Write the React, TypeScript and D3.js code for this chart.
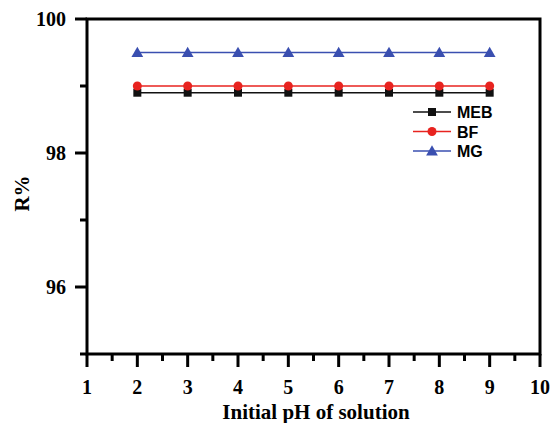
import React from "react";
import * as d3 from "d3";

const phValues = [2, 3, 4, 5, 6, 7, 8, 9];
const mebValues = [98.9, 98.9, 98.9, 98.9, 98.9, 98.9, 98.9, 98.9];
const bfValues = [99.0, 99.0, 99.0, 99.0, 99.0, 99.0, 99.0, 99.0];
const mgValues = [99.5, 99.5, 99.5, 99.5, 99.5, 99.5, 99.5, 99.5];
const xTickLabels = [1, 2, 3, 4, 5, 6, 7, 8, 9, 10];
const yTickLabels = [96, 98, 100];
const seriesNames = ["MEB", "BF", "MG"];

const W = 551, H = 423;
const L = 87, R = 540, T = 19, B = 354;
const font = "'Times New Roman', 'Liberation Serif', serif";

export default function App() {
  const x = d3.scaleLinear().domain([1, 10]).range([L, R]);
  const y = d3.scaleLinear().domain([95, 100]).range([B, T]);
  const line = d3.line<number>().x((_, i) => x(phValues[i])).y(d => y(d));
  const series = [
    { name: seriesNames[0], vals: mebValues, color: "#111111", shape: "square" },
    { name: seriesNames[1], vals: bfValues, color: "#e8231f", shape: "circle" },
    { name: seriesNames[2], vals: mgValues, color: "#3a4fb0", shape: "triangle" },
  ];
  const marker = (shape: string, cx: number, cy: number, color: string, key: any) => {
    if (shape === "square") return <rect key={key} x={cx - 4} y={cy - 4} width={8} height={8} fill={color} />;
    if (shape === "circle") return <circle key={key} cx={cx} cy={cy} r={4.5} fill={color} />;
    const sym = d3.symbol().type(d3.symbolTriangle).size(60)();
    return <path key={key} d={sym as string} transform={`translate(${cx},${cy + 1})`} fill={color} />;
  };
  const minorX = d3.range(1.5, 10, 1);
  const minorY = [95, 97, 99];
  return (
    <svg width={W} height={H} style={{ position: "absolute", left: 0, top: 0 }}>
      <rect width={W} height={H} fill="#fff" />
      {series.map((s, si) => (
        <g key={si}>
          <path d={line(s.vals) as string} fill="none" stroke={s.color} strokeWidth={1.5} />
          {s.vals.map((v, i) => marker(s.shape, x(phValues[i]), y(v), s.color, i))}
        </g>
      ))}
      <rect x={L} y={T} width={R - L} height={B - T} fill="none" stroke="#000" strokeWidth={3} />
      {xTickLabels.map(t => (
        <g key={t}>
          <line x1={x(t)} x2={x(t)} y1={B} y2={B + 13} stroke="#000" strokeWidth={3} />
          <text x={x(t)} y={B + 40} textAnchor="middle" fontFamily={font} fontWeight="bold" fontSize={20}>{t}</text>
        </g>
      ))}
      {minorX.map(t => (
        <line key={t} x1={x(t)} x2={x(t)} y1={B} y2={B + 7} stroke="#000" strokeWidth={3} />
      ))}
      {yTickLabels.map(t => (
        <g key={t}>
          <line x1={L - 12} x2={L} y1={y(t)} y2={y(t)} stroke="#000" strokeWidth={3} />
          <text x={L - 21} y={y(t) + 7} textAnchor="end" fontFamily={font} fontWeight="bold" fontSize={20}>{t}</text>
        </g>
      ))}
      {minorY.map(t => (
        <line key={t} x1={L - 7} x2={L} y1={y(t)} y2={y(t)} stroke="#000" strokeWidth={3} />
      ))}
      <text x={316} y={419} textAnchor="middle" fontFamily={font} fontWeight="bold" fontSize={21}>Initial pH of solution</text>
      <text transform={`translate(29,${(T + B) / 2 + 7}) rotate(-90)`} textAnchor="middle" fontFamily={font} fontWeight="bold" fontSize={21}>R%</text>
      {series.map((s, i) => {
        const ly = 112 + i * 19.5;
        return (
          <g key={i}>
            <line x1={413} x2={451} y1={ly} y2={ly} stroke={s.color} strokeWidth={1.5} />
            {marker(s.shape, 432, ly, s.color, "m")}
            <text x={457} y={ly + 6} fontFamily="Arial, 'Liberation Sans', sans-serif" fontWeight="bold" fontSize={16}>{s.name}</text>
          </g>
        );
      })}
    </svg>
  );
}
